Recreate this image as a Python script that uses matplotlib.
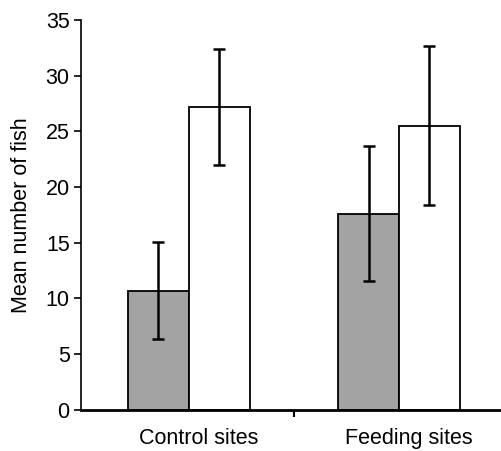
import numpy as np
import matplotlib.pyplot as plt

plt.rcParams['font.family'] = ['Liberation Sans', 'DejaVu Sans']

groups = ['Control sites', 'Feeding sites']
shaded_means = [10.7, 17.6]
shaded_err = [4.35, 6.05]
open_means = [27.2, 25.5]
open_err = [5.2, 7.15]

x = np.arange(len(groups))
w = 0.29

fig = plt.figure(figsize=(5.02, 4.51), dpi=100)
ax = fig.add_axes([0.161, 0.091, 0.839, 0.865])

ekw = dict(elinewidth=1.8, capthick=1.8, ecolor='black')
ax.bar(x - w / 2, shaded_means, w, color='#a3a3a3', edgecolor='black', linewidth=1.3,
       yerr=shaded_err, capsize=4.5, error_kw=ekw)
ax.bar(x + w / 2, open_means, w, color='white', edgecolor='black', linewidth=1.3,
       yerr=open_err, capsize=4.5, error_kw=ekw)

ax.set_ylim(0, 35)
ax.set_xlim(-0.514, 1.49)
ax.set_yticks(np.arange(0, 36, 5))
ax.set_xticks([0.5])
ax.set_xticklabels([''])
ax.tick_params(axis='x', length=5, width=1.5)
ax.tick_params(axis='y', length=5, width=1.2, labelsize=15.5, pad=3)
for xi, g in zip(x, groups):
    ax.text(xi + 0.045, -1.6, g, ha='center', va='top', fontsize=15.5)
ax.set_ylabel('Mean number of fish', fontsize=15.5, labelpad=10)

ax.spines['top'].set_visible(False)
ax.spines['right'].set_visible(False)
ax.spines['left'].set_linewidth(1.2)
ax.spines['bottom'].set_linewidth(2)

fig.savefig('out.png', dpi=100)
